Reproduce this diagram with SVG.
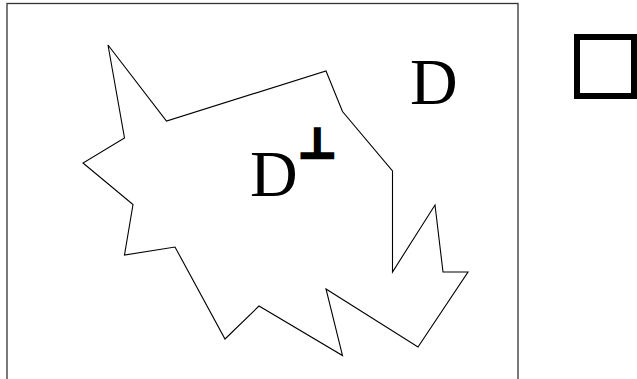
<svg xmlns="http://www.w3.org/2000/svg" width="637" height="379" viewBox="0 0 637 379">
<style>
.frame{fill:none;stroke:#333;stroke-width:1.3}
.shape{fill:none;stroke:#000;stroke-width:1.1;stroke-linejoin:miter}
.lbl{font-family:"Liberation Serif","Times New Roman",serif;font-size:66px;fill:#000}
.perp{font-family:"DejaVu Sans",sans-serif;font-weight:bold;font-size:42px;fill:#000;stroke:#000;stroke-width:2.5}
.qed{fill:none;stroke:#000;stroke-width:6}
</style>
<rect width="637" height="379" fill="#fff"/>
<g id="frame">
<rect class="frame" x="7" y="3.5" width="511" height="390"/>
</g>
<g id="region">
<polygon class="shape" points="108,45 166.5,121 326,71 342.5,111.5 392.5,171 392.5,272 435,205 443,272 468,272 418,347 326,289 342.5,355.5 259,306 225,339 175,247 124.5,255 133,204.5 83,163 124.5,138"/>
</g>
<g id="labels">
<text class="lbl" x="410" y="104">D</text>
<text class="lbl" x="250" y="196">D</text>
<text class="perp" x="298" y="158">⊥</text>
</g>
<g id="qed">
<rect class="qed" x="577" y="37" width="57" height="59"/>
</g>
</svg>
